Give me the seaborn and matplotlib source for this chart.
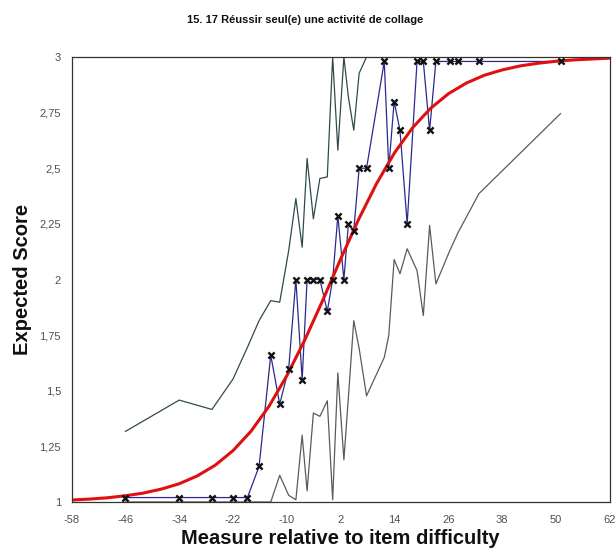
import matplotlib
matplotlib.use("Agg")
import matplotlib.pyplot as plt
import seaborn as sns
import pandas as pd

# Observed mean scores at each measure position
obs_x = [-46, -34, -26.7, -22, -18.8, -16.2, -13.6, -11.6, -9.6, -8.0, -6.6, -5.5,
         -4.1, -2.65, -1.0, 0.2, 1.35, 2.7, 3.7, 4.9, 6.1, 7.75, 11.7, 12.7, 13.9,
         15.2, 16.8, 19.0, 20.4, 21.8, 23.2, 26.3, 28.2, 32.8, 51.0]
obs_y = [1.02, 1.02, 1.02, 1.02, 1.02, 1.16, 1.66, 1.44, 1.60, 2.0, 1.55, 2.0,
         2.0, 2.0, 1.857, 2.0, 2.287, 2.0, 2.25, 2.22, 2.5, 2.5, 2.98, 2.5, 2.8,
         2.67, 2.25, 2.98, 2.98, 2.67, 2.98, 2.98, 2.98, 2.98, 2.98]

# Upper and lower confidence limits at the same positions
upper = [1.317, 1.458, 1.416, 1.553, 1.695, 1.815, 1.905, 1.898, 2.13, 2.364, 2.145,
         2.544, 2.273, 2.454, 2.461, 3.0, 2.581, 3.0, 2.82, 2.671, 2.927, 3.0, 3.0,
         3.0, 3.0, 3.0, 3.0, 3.0, 3.0, 3.0, 3.0, 3.0, 3.0, 3.0, 3.0]
lower = [1.0, 1.0, 1.0, 1.0, 1.0, 1.0, 1.0, 1.12, 1.03, 1.01, 1.30, 1.05, 1.40,
         1.385, 1.455, 1.01, 1.58, 1.19, 1.47, 1.815, 1.69, 1.477, 1.65, 1.748,
         2.09, 2.026, 2.138, 2.04, 1.838, 2.243, 1.98, 2.13, 2.213, 2.386, 2.746]

# Model expected score curve
model_x = [-58, -54, -50, -46, -42, -38, -34, -30, -26, -22, -18, -14, -10, -6, -2,
           2, 6, 10, 14, 18, 22, 26, 30, 34, 38, 42, 46, 50, 54, 58, 62]
model_y = [1.009, 1.013, 1.019, 1.028, 1.040, 1.058, 1.082, 1.117, 1.165, 1.231,
           1.318, 1.430, 1.568, 1.729, 1.907, 2.093, 2.271, 2.432, 2.570, 2.682,
           2.769, 2.835, 2.883, 2.918, 2.942, 2.960, 2.972, 2.981, 2.987, 2.991,
           2.995]

x_ticks = [-58, -46, -34, -22, -10, 2, 14, 26, 38, 50, 62]
y_ticks = [1, 1.25, 1.5, 1.75, 2, 2.25, 2.5, 2.75, 3]
y_tick_labels = ["1", "1,25", "1,5", "1,75", "2", "2,25", "2,5", "2,75", "3"]

title = "15. 17 Réussir seul(e) une activité de collage"
x_label = "Measure relative to item difficulty"
y_label = "Expected Score"

sns.set_style("white")
plt.rcParams["font.family"] = ["Liberation Sans", "DejaVu Sans"]

obs = pd.DataFrame({"x": obs_x, "y": obs_y, "upper": upper, "lower": lower})
model = pd.DataFrame({"x": model_x, "y": model_y})

fig = plt.figure(figsize=(6.15, 5.56), dpi=100)
ax = fig.add_axes([71.5 / 615, 54 / 556, 538.5 / 615, 445 / 556])

sns.lineplot(data=obs, x="x", y="lower", ax=ax, color="#5a5a5a", lw=0.9,
             sort=False, estimator=None)
sns.lineplot(data=obs, x="x", y="upper", ax=ax, color="#2f4a4a", lw=0.9,
             sort=False, estimator=None)
sns.lineplot(data=obs, x="x", y="y", ax=ax, color="#2a2a8c", lw=0.9,
             sort=False, estimator=None)
sns.lineplot(data=model, x="x", y="y", ax=ax, color="#e01010", lw=2.2,
             sort=False, estimator=None)
sns.scatterplot(data=obs, x="x", y="y", ax=ax, marker="x", color="#111111",
                s=20, linewidth=1.7, zorder=5)

ax.set_xlim(-58, 62)
ax.set_ylim(1, 3)
ax.set_xticks(x_ticks)
ax.set_xticklabels([str(v) for v in x_ticks])
ax.set_yticks(y_ticks)
ax.set_yticklabels(y_tick_labels)
ax.tick_params(axis="both", direction="inout", length=7, width=0.8,
               labelsize=8, labelcolor="#505050", color="#333333", pad=4)
ax.tick_params(axis="x", pad=6)
for side in ["left", "bottom", "top", "right"]:
    ax.spines[side].set_visible(True)
    ax.spines[side].set_color("#333333")
    ax.spines[side].set_linewidth(0.9)

ax.set_xlabel("")
ax.set_ylabel("")
fig.text(0.496, 0.964, title, ha="center", va="center", fontsize=8,
         fontweight="bold", color="#111111")
fig.text(0.553, 0.032, x_label, ha="center", va="center", fontsize=14.5,
         fontweight="bold", color="#111111")
fig.text(0.036, 0.497, y_label, ha="center", va="center", fontsize=14.5,
         fontweight="bold", color="#111111", rotation=90)

fig.savefig("out.png", dpi=100)
